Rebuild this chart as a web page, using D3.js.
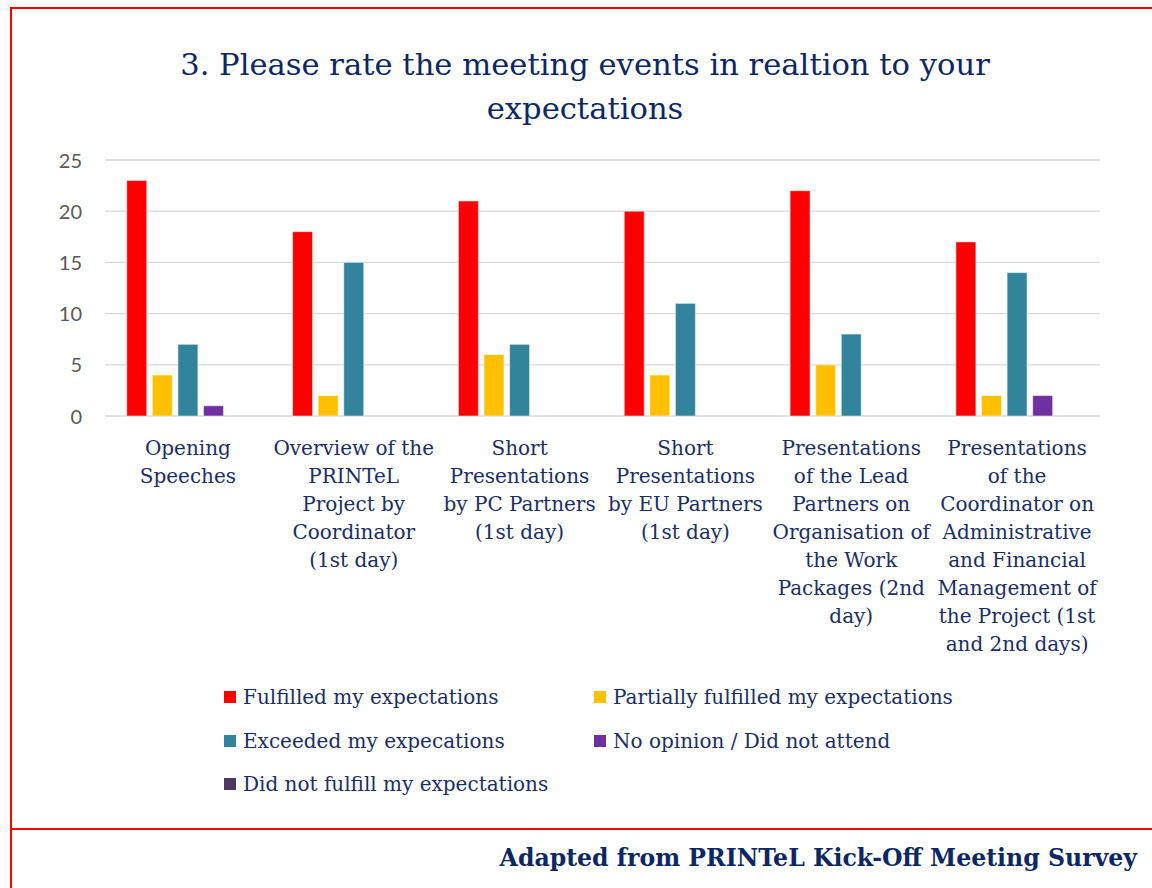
<!DOCTYPE html>
<html><head><meta charset="utf-8">
<script src="https://cdn.jsdelivr.net/npm/d3@7"></script>
<style>html,body{margin:0;padding:0;background:#fff;overflow:hidden}</style>
</head><body>
<svg id="c" width="1152" height="888"></svg>
<script>
const categories = [
  ["Opening","Speeches"],
  ["Overview of the","PRINTeL","Project by","Coordinator","(1st day)"],
  ["Short","Presentations","by PC Partners","(1st day)"],
  ["Short","Presentations","by EU Partners","(1st day)"],
  ["Presentations","of the Lead","Partners on","Organisation of","the Work","Packages (2nd","day)"],
  ["Presentations","of the","Coordinator on","Administrative","and Financial","Management of","the Project (1st","and 2nd days)"]
];
const seriesNames = ["Fulfilled my expectations","Partially fulfilled my expectations","Exceeded my expecations","No opinion / Did not attend","Did not fulfill my expectations"];
const seriesColors = ["#FF0000","#FFC000","#31849B","#7030A0","#4B3A62"];
const fulfilled   = [23,18,21,20,22,17];
const partially   = [4,2,6,4,5,2];
const exceeded    = [7,15,7,11,8,14];
const noOpinion   = [1,0,0,0,0,2];
const notFulfill  = [0,0,0,0,0,0];
const yTicks = [0,5,10,15,20,25];
const titleLines = ["3. Please rate the meeting events in realtion to your","expectations"];
const footer = "Adapted from PRINTeL Kick-Off Meeting Survey";

const seriesValues = [fulfilled, partially, exceeded, noOpinion, notFulfill];
const svg = d3.select("#c");
const serif = "'DejaVu Serif', serif";
const navy = "#1A2E63";

// frame
svg.append("rect").attr("x",11).attr("y",8).attr("width",1160).attr("height",900)
  .attr("fill","none").attr("stroke","#FF0000").attr("stroke-width",2);
svg.append("line").attr("x1",11).attr("x2",1152).attr("y1",829).attr("y2",829)
  .attr("stroke","#FF0000").attr("stroke-width",2);

// title
svg.append("text").attr("x",585).attr("y",75).attr("text-anchor","middle")
  .attr("font-family",serif).attr("font-size",30.6).attr("fill","#0C2763")
  .selectAll("tspan").data(titleLines).join("tspan")
  .attr("x",585).attr("dy",(d,i)=>i?44:0).text(d=>d);

const idx = d3.range(categories.length);
const x0 = d3.scaleBand().domain(idx).range([105,1100]).padding(0);
const x1 = d3.scaleBand().domain(d3.range(seriesNames.length)).range([0,x0.bandwidth()])
  .paddingInner(0.22).paddingOuter(0.85);
const y = d3.scaleLinear().domain([0,25]).range([416,160]);

// gridlines
svg.append("g").selectAll("line").data(yTicks).join("line")
  .attr("x1",105).attr("x2",1100).attr("y1",d=>y(d)).attr("y2",d=>y(d))
  .attr("stroke","#D9D9D9").attr("stroke-width",1.3);

// y axis labels
const yAxis = d3.axisLeft(y).tickValues(yTicks).tickSize(0).tickPadding(0);
const gy = svg.append("g").attr("transform","translate(82,0)").call(yAxis);
gy.select(".domain").remove();
gy.selectAll("text").attr("font-family","Lato, 'Open Sans', sans-serif").attr("font-size",20)
  .attr("fill","#595959").attr("dy","0.35em");

// bars
const groups = svg.append("g").selectAll("g").data(idx).join("g")
  .attr("transform",i=>`translate(${x0(i)},0)`);
groups.selectAll("rect").data(i=>seriesValues.map((vals,s)=>({s,v:vals[i]})))
  .join("rect")
  .attr("x",d=>x1(d.s)).attr("width",x1.bandwidth())
  .attr("y",d=>y(d.v)).attr("height",d=>y(0)-y(d.v))
  .attr("fill",d=>seriesColors[d.s])
  .attr("stroke",d=>d.v>0?"#ffffff":"none").attr("stroke-opacity",0.5).attr("stroke-width",1);

// category labels
const xl = svg.append("g").selectAll("text").data(idx).join("text")
  .attr("font-family",serif).attr("font-size",20).attr("fill",navy).attr("text-anchor","middle")
  .attr("y",455);
xl.selectAll("tspan").data(i=>categories[i].map(t=>({t,i}))).join("tspan")
  .attr("x",d=>x0(d.i)+x0.bandwidth()/2).attr("dy",(d,k)=>k?28:0).text(d=>d.t);

// legend
const legPos = [[224,697],[594,697],[224,741],[594,741],[224,784]];
const lg = svg.append("g").selectAll("g").data(seriesNames).join("g")
  .attr("transform",(d,i)=>`translate(${legPos[i][0]},${legPos[i][1]})`);
lg.append("rect").attr("x",0).attr("y",-6).attr("width",12).attr("height",12)
  .attr("fill",(d,i)=>seriesColors[i]);
lg.append("text").attr("x",19).attr("y",0).attr("dy","0.35em")
  .attr("font-family",serif).attr("font-size",20).attr("fill",navy).text(d=>d);

// footer
svg.append("text").attr("x",1137).attr("y",866).attr("text-anchor","end")
  .attr("font-family",serif).attr("font-weight","bold").attr("font-size",23.6)
  .attr("fill","#0C2763").text(footer);
</script>
</body></html>
